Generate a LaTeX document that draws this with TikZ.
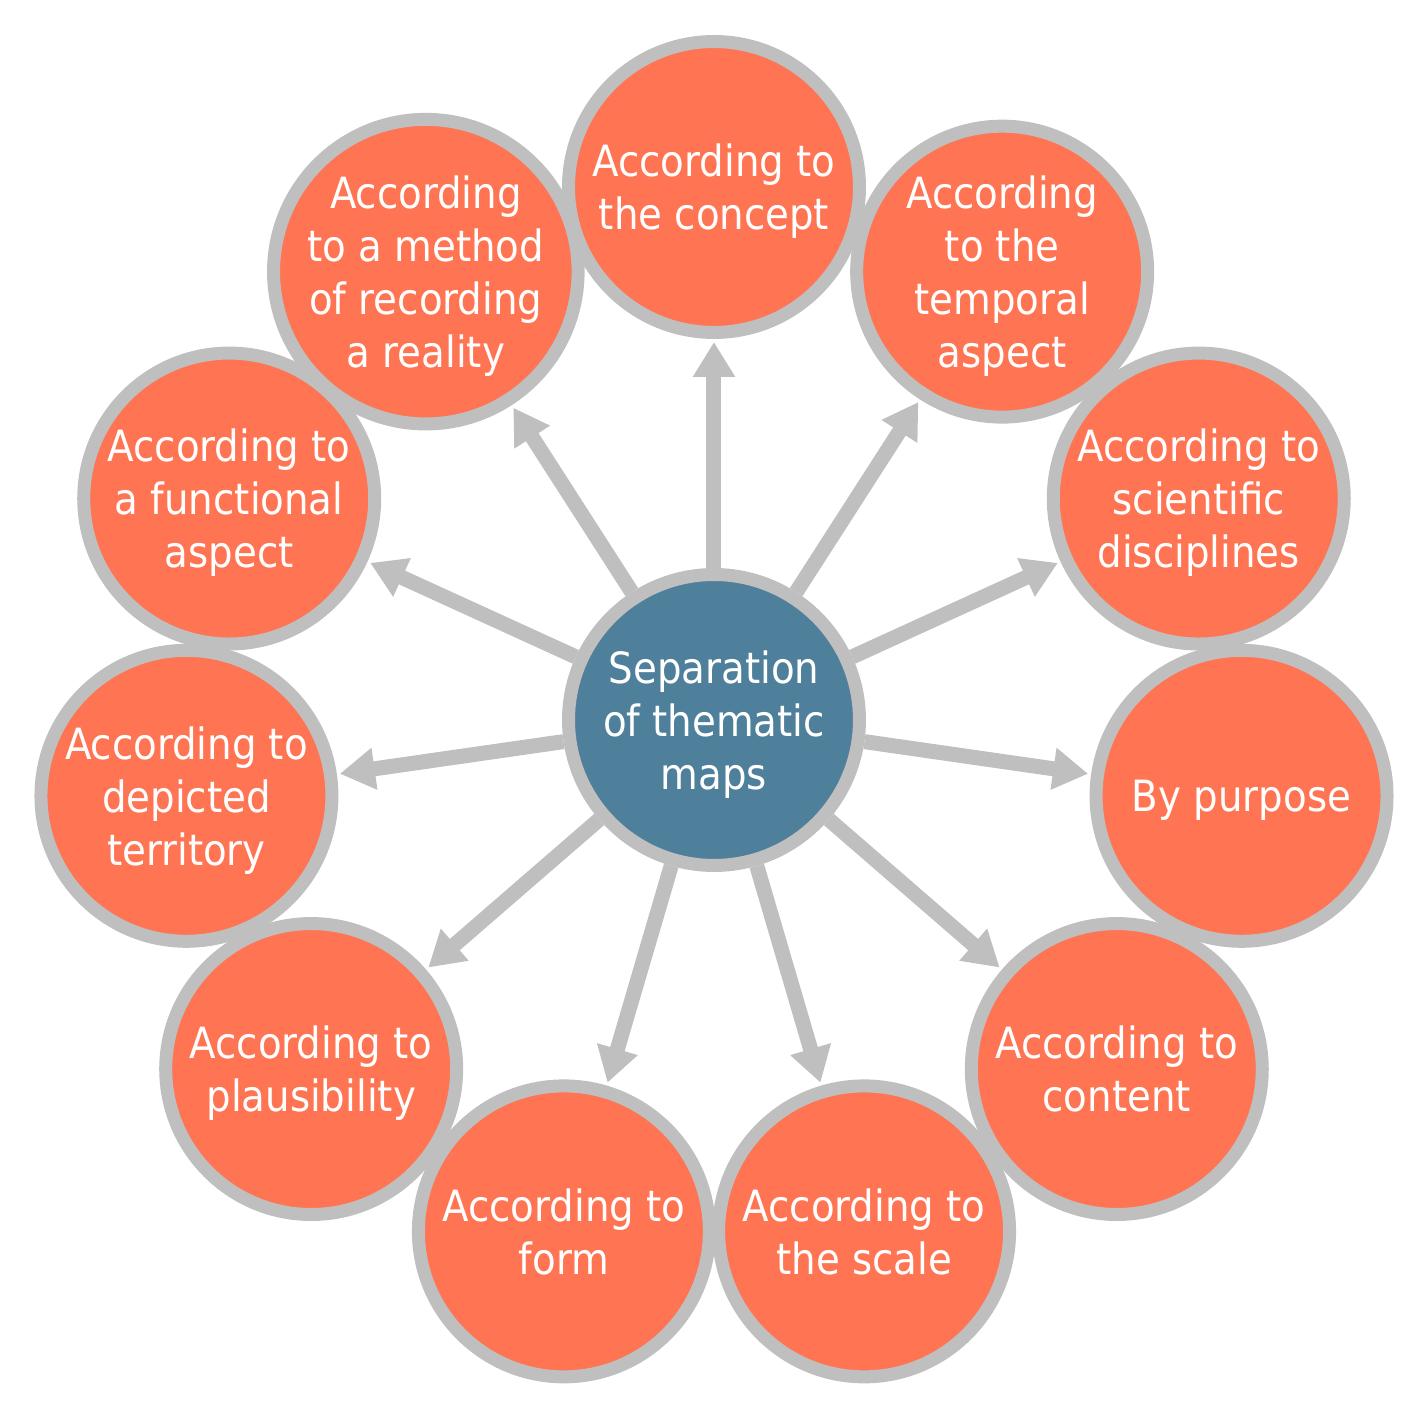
\documentclass[tikz,border=0pt]{standalone}
\usepackage{fontspec}
\IfFontExistsTF{DejaVu Sans Condensed}{\setmainfont{DejaVu Sans Condensed}}{\setmainfont{DejaVu Sans}}
\usepackage{xcolor}
\usetikzlibrary{arrows.meta}
\definecolor{ringgray}{HTML}{BFBFBF}
\definecolor{topicorange}{HTML}{FF7452}
\definecolor{hubblue}{HTML}{4E7F9B}

\begin{document}
\begin{tikzpicture}[x=0.02cm, y=0.02cm,
    bubble/.style={circle, draw=ringgray, line width=0.26cm, minimum size=5.82cm,
        inner sep=0pt, align=center, text=white, font=\fontsize{24.5}{30.2}\selectfont,
        text depth=-4.5pt},
    topic/.style={bubble, fill=topicorange},
    spoke/.style={draw=ringgray, line width=0.3cm, shorten >=0.06cm,
        -{Triangle[length=0.7cm, width=0.8cm]}}]
        \useasboundingbox (-714,-706) rectangle (714,720);
        \node[bubble, fill=hubblue] (hub) at (0,0) {Separation\\of thematic\\maps};
        \node[topic] (concept) at (90:533) {According to\\the concept};
        \node[topic] (temporal) at (57.27:533) {According\\to the\\temporal\\aspect};
        \node[topic] (science) at (24.55:533) {According to\\scientific\\disciplines};
        \node[topic] (purpose) at (-8.18:533) {By purpose};
        \node[topic] (content) at (-40.91:533) {According to\\content};
        \node[topic] (scale) at (-73.64:533) {According to\\the scale};
        \node[topic] (form) at (-106.36:533) {According to\\form};
        \node[topic] (plausible) at (-139.09:533) {According to\\plausibility};
        \node[topic] (territory) at (-171.82:533) {According to\\depicted\\territory};
        \node[topic] (function) at (155.45:533) {According to\\a functional\\aspect};
        \node[topic] (method) at (122.73:533) {According\\to a method\\of recording\\a reality};
        \draw[spoke] (hub) -- (concept);
        \draw[spoke] (hub) -- (temporal);
        \draw[spoke] (hub) -- (science);
        \draw[spoke] (hub) -- (purpose);
        \draw[spoke] (hub) -- (content);
        \draw[spoke] (hub) -- (scale);
        \draw[spoke] (hub) -- (form);
        \draw[spoke] (hub) -- (plausible);
        \draw[spoke] (hub) -- (territory);
        \draw[spoke] (hub) -- (function);
        \draw[spoke] (hub) -- (method);
    \end{tikzpicture}
\end{document}
